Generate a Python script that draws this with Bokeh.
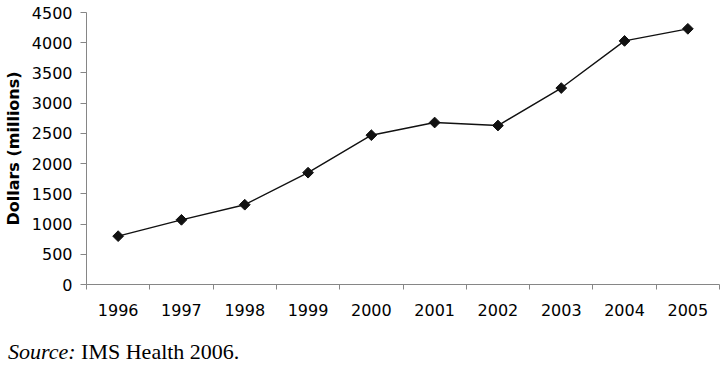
import math
from bokeh.plotting import figure
from bokeh.models import Range1d, FixedTicker, Div
from bokeh.layouts import column
from bokeh.embed import file_html
from bokeh.resources import INLINE

years = ["1996", "1997", "1998", "1999", "2000", "2001", "2002", "2003", "2004", "2005"]
sales = [800, 1070, 1320, 1850, 2470, 2680, 2630, 3250, 4030, 4230]
y_ticks = [0, 500, 1000, 1500, 2000, 2500, 3000, 3500, 4000, 4500]
y_label = "Dollars (millions)"
source_html = "<i>Source:</i> IMS Health 2006."

xs = [i + 0.5 for i in range(len(years))]
bounds = list(range(len(years) + 1))

AX = "#868686"
FONT = "DejaVu Sans"

p = figure(width=720, height=324, output_backend="svg", toolbar_location=None,
           x_range=Range1d(0, len(years)), y_range=Range1d(y_ticks[0], y_ticks[-1]),
           min_border_left=83, min_border_right=1, min_border_top=12, min_border_bottom=40)
p.outline_line_color = None
p.xgrid.visible = False
p.ygrid.visible = False

p.line(xs, sales, line_color="#111111", line_width=1.4)
p.scatter(xs, sales, marker="square", angle=math.pi / 4, size=7.6,
          fill_color="#111111", line_color="#111111")

xa = p.xaxis[0]
xa.ticker = FixedTicker(ticks=xs, minor_ticks=bounds)
xa.major_label_overrides = {x: y for x, y in zip(xs, years)}
xa.major_tick_line_color = None
xa.major_tick_out = 5
xa.major_tick_in = 0
xa.minor_tick_out = 5
xa.minor_tick_in = 0
xa.minor_tick_line_color = AX
xa.axis_line_color = AX
xa.major_label_standoff = 14
xa.major_label_text_font = FONT
xa.major_label_text_font_size = "16px"
xa.major_label_text_color = "black"

ya = p.yaxis[0]
ya.ticker = FixedTicker(ticks=y_ticks, minor_ticks=[])
ya.major_tick_out = 6
ya.major_tick_in = 0
ya.major_tick_line_color = AX
ya.axis_line_color = AX
ya.major_label_standoff = 8
ya.major_label_text_font = FONT
ya.major_label_text_font_size = "16px"
ya.major_label_text_color = "black"
ya.axis_label = y_label
ya.axis_label_text_font = FONT
ya.axis_label_text_font_style = "bold"
ya.axis_label_text_font_size = "16px"
ya.axis_label_text_color = "black"
ya.axis_label_standoff = 6

div = Div(text=source_html, width=712, height=25,
          styles={"font-family": "'Liberation Serif', serif", "font-size": "22px",
                  "color": "black", "margin-top": "12px", "margin-left": "8px"})

layout = column(p, div)
open("out.html", "w").write(file_html(layout, INLINE))
